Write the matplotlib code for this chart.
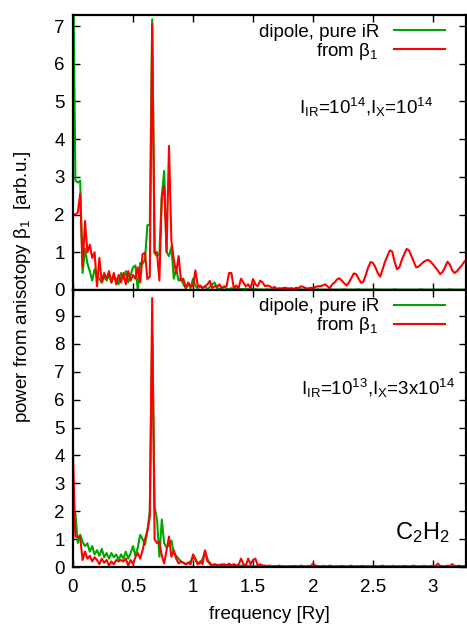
import numpy as np
import matplotlib
matplotlib.use("Agg")
import matplotlib.pyplot as plt

plt.rcParams['font.family'] = ['Liberation Sans', 'DejaVu Sans']
plt.rcParams['mathtext.default'] = 'regular'

# frequency grid [Ry]
freq = np.round(np.arange(165) * 0.02, 2)

# ---- top panel: I_IR=1e14, I_X=1e14 ----
green_top = [
    9.0, 2.9, 2.85, 2.9, 0.45, 1.1, 0.7, 0.5, 0.25, 0.55,
    0.35, 0.3, 0.2, 0.35, 0.25, 0.4, 0.2, 0.35, 0.3, 0.15,
    0.45, 0.3, 0.5, 0.2, 0.4, 0.6, 0.65, 0.0, 0.72, 0.7,
    0.8, 1.72, 1.72, 7.18, 0.97, 0.9, 0.95, 2.5, 3.16, 1.0,
    0.9, 1.15, 0.3, 0.55, 0.25, 0.3, 0.15, 0.05, 0.15, 0.05,
    0.3, 0.1, 0.05, 0.1, 0.05, 0.1, 0.02, 0.08, 0.15, 0.2,
    0.05, 0.02, 0.05, 0.1, 0.03, 0.02, 0.05, 0.02, 0.04, 0.02,
    0.03, 0.02, 0.04, 0.02, 0.05, 0.02, 0.03, 0.01, 0.02, 0.01,
    0.01, 0.02, 0.01, 0.01, 0.02, 0.01, 0.01, 0.02, 0.01, 0.01,
    0.01, 0.02, 0.01, 0.01, 0.01, 0.02, 0.01, 0.01, 0.01, 0.01,
    0.01, 0.01, 0.02, 0.01, 0.01, 0.01, 0.01, 0.02, 0.01, 0.01,
    0.01, 0.01, 0.01, 0.02, 0.01, 0.01, 0.01, 0.01, 0.01, 0.02,
    0.01, 0.01, 0.01, 0.01, 0.01, 0.01, 0.02, 0.01, 0.01, 0.01,
    0.01, 0.01, 0.01, 0.01, 0.02, 0.01, 0.01, 0.01, 0.01, 0.01,
    0.01, 0.01, 0.01, 0.01, 0.01, 0.02, 0.01, 0.01, 0.01, 0.01,
    0.01, 0.01, 0.01, 0.01, 0.01, 0.01, 0.01, 0.02, 0.01, 0.01,
    0.01, 0.01, 0.01, 0.01, 0.01,
]
red_top = [
    2.0, 2.0, 2.05, 2.55, 0.6, 1.83, 1.0, 1.2, 0.85, 1.0,
    0.1, 0.85, 0.2, 0.45, 0.3, 0.5, 0.2, 0.45, 0.15, 0.4,
    0.2, 0.45, 0.15, 0.5, 0.25, 0.4, 0.3, 0.6, 0.2, 0.95,
    0.99, 0.29, 0.35, 7.05, 1.0, 1.0, 0.25, 2.45, 2.76, 1.02,
    3.82, 1.3, 0.8, 0.45, 0.9, 0.25, 0.3, 0.05, 0.2, 0.1,
    0.1, 0.52, 0.1, 0.12, 0.05, 0.1, 0.15, 0.24, 0.05, 0.1,
    0.08, 0.15, 0.05, 0.08, 0.1, 0.45, 0.45, 0.05, 0.12, 0.05,
    0.3, 0.2, 0.1, 0.15, 0.05, 0.29, 0.15, 0.1, 0.25, 0.2,
    0.1, 0.12, 0.1, 0.05, 0.08, 0.03, 0.05, 0.04, 0.06, 0.05,
    0.04, 0.05, 0.03, 0.06, 0.05, 0.1, 0.08, 0.05, 0.04, 0.06,
    0.05, 0.08, 0.1, 0.1, 0.12, 0.15, 0.1, 0.05, 0.15, 0.2,
    0.28, 0.31, 0.25, 0.18, 0.12, 0.2, 0.32, 0.44, 0.42, 0.3,
    0.19, 0.22, 0.4, 0.6, 0.74, 0.72, 0.6, 0.45, 0.35, 0.55,
    0.75, 0.9, 1.05, 1.02, 0.75, 0.55, 0.6, 0.8, 0.95, 1.09,
    1.05, 0.9, 0.75, 0.6, 0.62, 0.68, 0.74, 0.78, 0.8, 0.75,
    0.68, 0.6, 0.52, 0.42, 0.48, 0.6, 0.75, 0.68, 0.52, 0.45,
    0.5, 0.58, 0.65, 0.75, 0.8,
]

# ---- bottom panel: I_IR=1e13, I_X=3e14 ----
green_bot = [
    1.1, 1.93, 0.86, 1.16, 0.9, 0.75, 0.85, 0.55, 0.75, 0.45,
    0.6, 0.4, 0.65, 0.35, 0.5, 0.3, 0.5, 0.35, 0.45, 0.25,
    0.45, 0.3, 0.55, 0.3, 0.5, 0.75, 0.4, 0.7, 1.15, 1.0,
    0.8, 1.3, 2.0, 8.3, 2.17, 1.7, 0.37, 1.7, 0.85, 0.7,
    0.8, 0.95, 0.5, 0.4, 0.3, 0.2, 0.15, 0.1, 0.15, 0.2,
    0.35, 0.25, 0.1, 0.15, 0.3, 0.55, 0.3, 0.1, 0.05, 0.1,
    0.08, 0.05, 0.1, 0.06, 0.05, 0.08, 0.05, 0.1, 0.04, 0.06,
    0.05, 0.04, 0.06, 0.03, 0.05, 0.03, 0.02, 0.04, 0.02, 0.03,
    0.02, 0.01, 0.02, 0.01, 0.02, 0.01, 0.01, 0.02, 0.01, 0.01,
    0.01, 0.02, 0.01, 0.01, 0.01, 0.02, 0.01, 0.01, 0.01, 0.01,
    0.01, 0.01, 0.02, 0.01, 0.01, 0.01, 0.01, 0.02, 0.01, 0.01,
    0.01, 0.01, 0.01, 0.02, 0.01, 0.01, 0.01, 0.01, 0.01, 0.02,
    0.01, 0.01, 0.01, 0.01, 0.01, 0.01, 0.02, 0.01, 0.01, 0.01,
    0.01, 0.01, 0.01, 0.01, 0.02, 0.01, 0.01, 0.01, 0.01, 0.01,
    0.01, 0.01, 0.01, 0.01, 0.01, 0.02, 0.01, 0.01, 0.01, 0.01,
    0.01, 0.01, 0.01, 0.01, 0.01, 0.01, 0.01, 0.02, 0.01, 0.01,
    0.01, 0.01, 0.01, 0.01, 0.01,
]
red_bot = [
    3.97, 1.09, 1.1, 1.05, 0.25, 0.55, 0.3, 0.4, 0.2, 0.35,
    0.25, 0.1, 0.3, 0.15, 0.25, 0.05, 0.2, 0.1, 0.25, 0.2,
    0.25, 0.2, 0.3, 0.05, 0.25, 0.1, 0.35, 0.5, 0.3, 0.6,
    1.0, 1.3, 1.8, 9.64, 0.99, 0.86, 0.9, 0.4, 0.13, 0.6,
    1.09, 0.37, 0.6, 0.3, 0.13, 0.2, 0.15, 0.1, 0.15, 0.1,
    0.45, 0.3, 0.1, 0.2, 0.1, 0.6, 0.2, 0.15, 0.05, 0.1,
    0.05, 0.08, 0.05, 0.1, 0.06, 0.12, 0.05, 0.1, 0.05, 0.08,
    0.3, 0.1, 0.05, 0.3, 0.1, 0.25, 0.3, 0.05, 0.1, 0.05,
    0.05, 0.03, 0.05, 0.02, 0.04, 0.03, 0.05, 0.02, 0.03, 0.02,
    0.03, 0.02, 0.04, 0.03, 0.02, 0.05, 0.03, 0.02, 0.04, 0.03,
    0.12, 0.05, 0.03, 0.02, 0.04, 0.03, 0.02, 0.05, 0.03, 0.02,
    0.03, 0.02, 0.04, 0.03, 0.02, 0.03, 0.05, 0.02, 0.03, 0.02,
    0.03, 0.04, 0.02, 0.03, 0.02, 0.04, 0.03, 0.02, 0.03, 0.05,
    0.02, 0.03, 0.02, 0.04, 0.03, 0.02, 0.03, 0.02, 0.04, 0.03,
    0.02, 0.03, 0.05, 0.02, 0.03, 0.02, 0.04, 0.03, 0.02, 0.03,
    0.05, 0.03, 0.12, 0.04, 0.03, 0.02, 0.05, 0.03, 0.1, 0.04,
    0.03, 0.05, 0.02, 0.04, 0.03,
]

labels = ["dipole, pure iR", "from $\\beta_1$"]
annot_top = "$I_{IR}$=10$^{14}$,$I_X$=10$^{14}$"
annot_bot = "$I_{IR}$=10$^{13}$,$I_X$=3x10$^{14}$"
molecule = "$C_2H_2$"

GREEN = "#00a600"
RED = "#ff0000"
FS = 13.5

fig = plt.figure(figsize=(4.67, 6.25), dpi=100)
left, right = 73 / 467, 466 / 467
y_top, y_mid, y_bot = 1 - 14.7 / 625, 1 - 290 / 625, 1 - 567 / 625
ax1 = fig.add_axes([left, y_mid, right - left, y_top - y_mid])
ax2 = fig.add_axes([left, y_bot, right - left, y_mid - y_bot])

for ax, g, r, ymax, yt, anchor_y in [
    (ax1, green_top, red_top, 7.3, range(0, 8), 0.982),
    (ax2, green_bot, red_bot, 9.93, range(0, 10), 0.984),
]:
    ax.plot(freq, g, color=GREEN, lw=1.5, label=labels[0])
    ax.plot(freq, r, color=RED, lw=1.5, label=labels[1])
    ax.set_xlim(0, 3.275)
    ax.set_ylim(0, ymax)
    ax.set_yticks(list(yt))
    ax.set_xticks([0, 0.5, 1, 1.5, 2, 2.5, 3])
    ax.set_xticklabels(["0", "0.5", "1", "1.5", "2", "2.5", "3"])
    ax.tick_params(direction="in", length=5, width=1, top=True, right=True,
                   labelsize=FS)
    ax.tick_params(axis="y", pad=6)
    ax.tick_params(axis="x", pad=9)
    for s in ax.spines.values():
        s.set_linewidth(1.6)
    ax.legend(loc="upper right", bbox_to_anchor=(0.955, anchor_y),
              frameon=False, markerfirst=False, fontsize=FS,
              handlelength=2.7, handletextpad=0.8, labelspacing=0.0,
              borderaxespad=0.0, borderpad=0.2)

ax1.tick_params(labelbottom=False)
ax1.text(0.916, 0.662, annot_top, transform=ax1.transAxes, ha="right",
         va="center", fontsize=FS)
ax2.text(0.972, 0.643, annot_bot, transform=ax2.transAxes, ha="right",
         va="center", fontsize=FS)
ax2.text(0.959, 0.126, molecule, transform=ax2.transAxes, ha="right",
         va="center", fontsize=17)

fig.text(0.049, 0.542, "power from anisotopy $\\beta_1$  [arb.u.]",
         rotation=90, ha="center", va="center", fontsize=FS)
fig.text((left + right) / 2, 0.017, "frequency [Ry]", ha="center",
         va="center", fontsize=FS)

fig.savefig("out.png", dpi=100)
